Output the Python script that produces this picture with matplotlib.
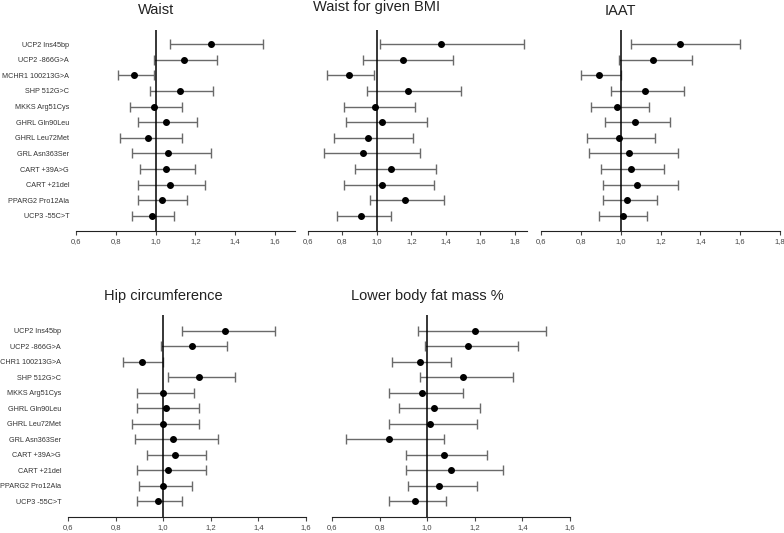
import numpy as np
from matplotlib import pyplot as plt

plt.rcParams['font.family'] = ['Liberation Sans', 'DejaVu Sans']

genes = ["UCP2 Ins45bp", "UCP2 -866G>A", "MCHR1 100213G>A", "SHP 512G>C",
         "MKKS Arg51Cys", "GHRL Gln90Leu", "GHRL Leu72Met", "GRL Asn363Ser",
         "CART +39A>G", "CART +21del", "PPARG2 Pro12Ala", "UCP3 -55C>T"]
tick_vals = [0.6, 0.8, 1.0, 1.2, 1.4, 1.6, 1.8]

# odds ratio estimate, lower CI, upper CI
waist_or = [1.28, 1.14, 0.89, 1.12, 0.99, 1.05, 0.96, 1.06, 1.05, 1.07, 1.03, 0.98]
waist_lo = [1.07, 0.99, 0.81, 0.97, 0.87, 0.91, 0.82, 0.88, 0.92, 0.91, 0.91, 0.88]
waist_hi = [1.54, 1.31, 0.99, 1.29, 1.13, 1.21, 1.13, 1.28, 1.20, 1.25, 1.16, 1.09]

wbmi_or = [1.37, 1.15, 0.84, 1.18, 0.99, 1.03, 0.95, 0.92, 1.08, 1.03, 1.16, 0.91]
wbmi_lo = [1.02, 0.92, 0.71, 0.94, 0.81, 0.82, 0.75, 0.69, 0.87, 0.81, 0.96, 0.77]
wbmi_hi = [1.85, 1.44, 0.98, 1.49, 1.22, 1.29, 1.21, 1.25, 1.34, 1.33, 1.39, 1.08]

iaat_or = [1.30, 1.16, 0.89, 1.12, 0.98, 1.07, 0.99, 1.04, 1.05, 1.08, 1.03, 1.01]
iaat_lo = [1.05, 0.99, 0.80, 0.95, 0.85, 0.92, 0.83, 0.84, 0.90, 0.91, 0.91, 0.89]
iaat_hi = [1.60, 1.36, 1.00, 1.32, 1.14, 1.25, 1.17, 1.29, 1.22, 1.29, 1.18, 1.13]

hip_or = [1.26, 1.12, 0.91, 1.15, 1.00, 1.01, 1.00, 1.04, 1.05, 1.02, 1.00, 0.98]
hip_lo = [1.08, 0.99, 0.83, 1.02, 0.89, 0.89, 0.87, 0.88, 0.93, 0.89, 0.90, 0.89]
hip_hi = [1.47, 1.27, 1.00, 1.30, 1.13, 1.15, 1.15, 1.23, 1.18, 1.18, 1.12, 1.08]

lbf_or = [1.20, 1.17, 0.97, 1.15, 0.98, 1.03, 1.01, 0.84, 1.07, 1.10, 1.05, 0.95]
lbf_lo = [0.96, 0.99, 0.85, 0.97, 0.84, 0.88, 0.84, 0.66, 0.91, 0.91, 0.92, 0.84]
lbf_hi = [1.50, 1.38, 1.10, 1.36, 1.15, 1.22, 1.21, 1.07, 1.25, 1.32, 1.21, 1.08]

W, H = 784, 533
fig = plt.figure(figsize=(W / 100, H / 100), dpi=100)


def panel(px0, px1, py0, py1, xmax, ylim, est, lo, hi, title, ty, labels):
    ax = fig.add_axes([px0 / W, 1 - py1 / H, (px1 - px0) / W, (py1 - py0) / H])
    y = np.arange(1, len(est) + 1)
    est = np.array(est)
    err = [est - np.array(lo), np.array(hi) - est]
    ax.errorbar(est, y, xerr=err, fmt='o', color='black', ms=4,
                ecolor='#6a6a6a', elinewidth=1, capsize=3.5, capthick=1)
    ax.axvline(1.0, color='black', lw=1.1)
    ax.set_xlim(0.6, xmax)
    ax.set_ylim(*ylim)
    ticks = [t for t in tick_vals if t <= xmax + 1e-9]
    ax.set_xticks(ticks)
    ax.set_xticklabels([f"{t:.1f}".replace('.', ',') for t in ticks])
    ax.tick_params(axis='x', labelsize=5.5, length=3, width=0.8, pad=2,
                   colors='#444444')
    for s in ['top', 'right', 'left']:
        ax.spines[s].set_visible(False)
    ax.spines['bottom'].set_color('#222222')
    if labels:
        ax.set_yticks(y)
        ax.set_yticklabels(genes, fontsize=5.2, color='#333333')
        ax.tick_params(axis='y', length=0, pad=5)
    else:
        ax.set_yticks([])
    # title centred over the reference line
    cx = px0 + (1.0 - 0.6) / (xmax - 0.6) * (px1 - px0)
    fig.text(cx / W, 1 - ty / H, title, ha='center', va='center',
             fontsize=10.5, color='#222222')
    return ax


panel(76, 295, 30, 231, 1.7, (12.96, 0.1), waist_or, waist_lo, waist_hi,
      "Waist", 10, True)
panel(308, 527, 30, 231, 1.87, (12.96, 0.1), wbmi_or, wbmi_lo, wbmi_hi,
      "Waist for given BMI", 7, False)
panel(541, 780, 30, 231, 1.8, (12.96, 0.1), iaat_or, iaat_lo, iaat_hi,
      "IAAT", 11, False)
panel(68, 306, 315, 517, 1.6, (13.0, 0.0), hip_or, hip_lo, hip_hi,
      "Hip circumference", 296, True)
panel(332, 570, 315, 517, 1.6, (13.0, 0.0), lbf_or, lbf_lo, lbf_hi,
      "Lower body fat mass %", 296, False)

fig.savefig("out.png", dpi=100)
